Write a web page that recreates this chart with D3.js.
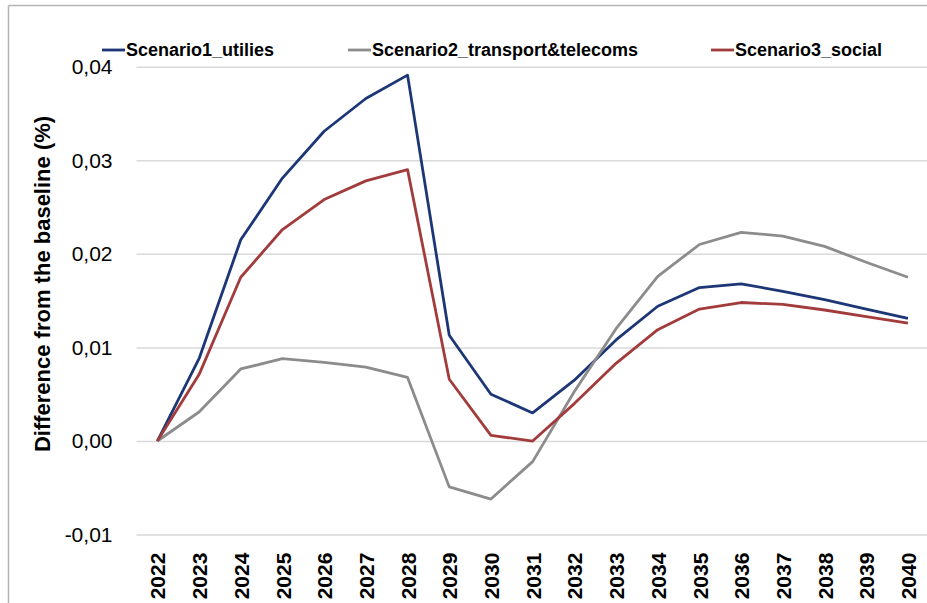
<!DOCTYPE html>
<html>
<head>
<meta charset="utf-8">
<script src="https://cdn.jsdelivr.net/npm/d3@7"></script>
<style>
  body { margin: 0; background: #fff; }
  svg { display: block; font-family: "Liberation Sans", Arial, sans-serif; }
</style>
</head>
<body>
<script>
var years = ["2022", "2023", "2024", "2025", "2026", "2027", "2028", "2029", "2030", "2031",
             "2032", "2033", "2034", "2035", "2036", "2037", "2038", "2039", "2040"];

var utilities = [0, 0.0088, 0.0215, 0.0281, 0.0331, 0.0366, 0.0391, 0.0113, 0.0050, 0.0030,
                 0.0065, 0.0108, 0.0144, 0.0164, 0.0168, 0.0160, 0.0151, 0.0141, 0.0131];
var transport = [0, 0.0031, 0.0077, 0.0088, 0.0084, 0.0079, 0.0068, -0.0049, -0.0062, -0.0022,
                 0.0053, 0.0120, 0.0176, 0.0210, 0.0223, 0.0219, 0.0208, 0.0191, 0.0175];
var social = [0, 0.0071, 0.0175, 0.0226, 0.0258, 0.0278, 0.0290, 0.0066, 0.0006, 0.0000,
              0.0040, 0.0083, 0.0119, 0.0141, 0.0148, 0.0146, 0.0140, 0.0133, 0.0126];

var yTicks = [-0.01, 0, 0.01, 0.02, 0.03, 0.04];

var seriesNames = ["Scenario1_utilies", "Scenario2_transport&telecoms", "Scenario3_social"];
var seriesColors = ["#1c3676", "#8c8c8c", "#a23c3c"];
var seriesValues = [utilities, transport, social];

var W = 927, H = 603;
var plot = { left: 136.5, right: 928.8, top: 66.7, bottom: 534.6 };

var svg = d3.select("body").append("svg")
    .attr("width", W)
    .attr("height", H);

// frame of the chart area (only top and left edges are visible in the crop)
svg.append("line")
    .attr("x1", 8.5).attr("x2", W).attr("y1", 5.5).attr("y2", 5.5)
    .style("stroke", "#b4b4b4").style("stroke-width", 1.5);
svg.append("line")
    .attr("x1", 8.5).attr("x2", 8.5).attr("y1", 5.5).attr("y2", H)
    .style("stroke", "#b4b4b4").style("stroke-width", 1.5);

var x = d3.scalePoint().domain(years).range([plot.left, plot.right]).padding(0.5);
var y = d3.scaleLinear().domain([-0.01, 0.04]).range([plot.bottom, plot.top]);

// decimal comma, plain hyphen for negatives
var fmt = function(d) { return d3.format(".2f")(d).replace(".", ",").replace("\u2212", "-"); };

// gridlines + y labels
var yAxis = svg.append("g")
    .attr("transform", "translate(" + plot.left + ",0)")
    .call(d3.axisLeft(y).tickValues(yTicks).tickFormat(fmt)
        .tickSize(-(plot.right - plot.left)).tickPadding(24));
yAxis.select(".domain").remove();
yAxis.selectAll(".tick line")
    .style("stroke", "#d9d9d9").style("stroke-width", 1.5);
yAxis.selectAll(".tick text")
    .style("font-size", "21px").style("fill", "#000");

// x labels, rotated
var xAxis = svg.append("g")
    .attr("transform", "translate(0," + plot.bottom + ")")
    .call(d3.axisBottom(x).tickSize(0));
xAxis.select(".domain").remove();
xAxis.selectAll(".tick text")
    .attr("transform", "rotate(-90)")
    .attr("x", -18)
    .attr("y", 0)
    .attr("dy", "0.36em")
    .style("text-anchor", "end")
    .style("font-size", "21px")
    .style("font-weight", "bold")
    .style("fill", "#000");

// y title
svg.append("text")
    .attr("transform", "translate(50,284) rotate(-90)")
    .style("text-anchor", "middle")
    .style("font-size", "22px")
    .style("font-weight", "bold")
    .text("Difference from the baseline (%)");

// lines
var line = d3.line()
    .x(function(d, i) { return x(years[i]); })
    .y(function(d) { return y(d); });

seriesValues.forEach(function(vals, i) {
    svg.append("path")
        .datum(vals)
        .attr("d", line)
        .style("fill", "none")
        .style("stroke", seriesColors[i])
        .style("stroke-width", 2.8)
        .style("stroke-linejoin", "round");
});

// legend
var legendX = [102, 348, 711];
var legend = svg.selectAll(".legend")
    .data(seriesNames)
    .enter().append("g")
    .attr("class", "legend")
    .attr("transform", function(d, i) { return "translate(" + legendX[i] + ",50)"; });

legend.append("line")
    .attr("x1", 0).attr("x2", 23)
    .style("stroke", function(d, i) { return seriesColors[i]; })
    .style("stroke-width", 2.8);

legend.append("text")
    .attr("x", 24)
    .attr("dy", "0.35em")
    .style("font-size", "18px")
    .style("font-weight", "bold")
    .text(function(d) { return d; });
</script>
</body>
</html>
